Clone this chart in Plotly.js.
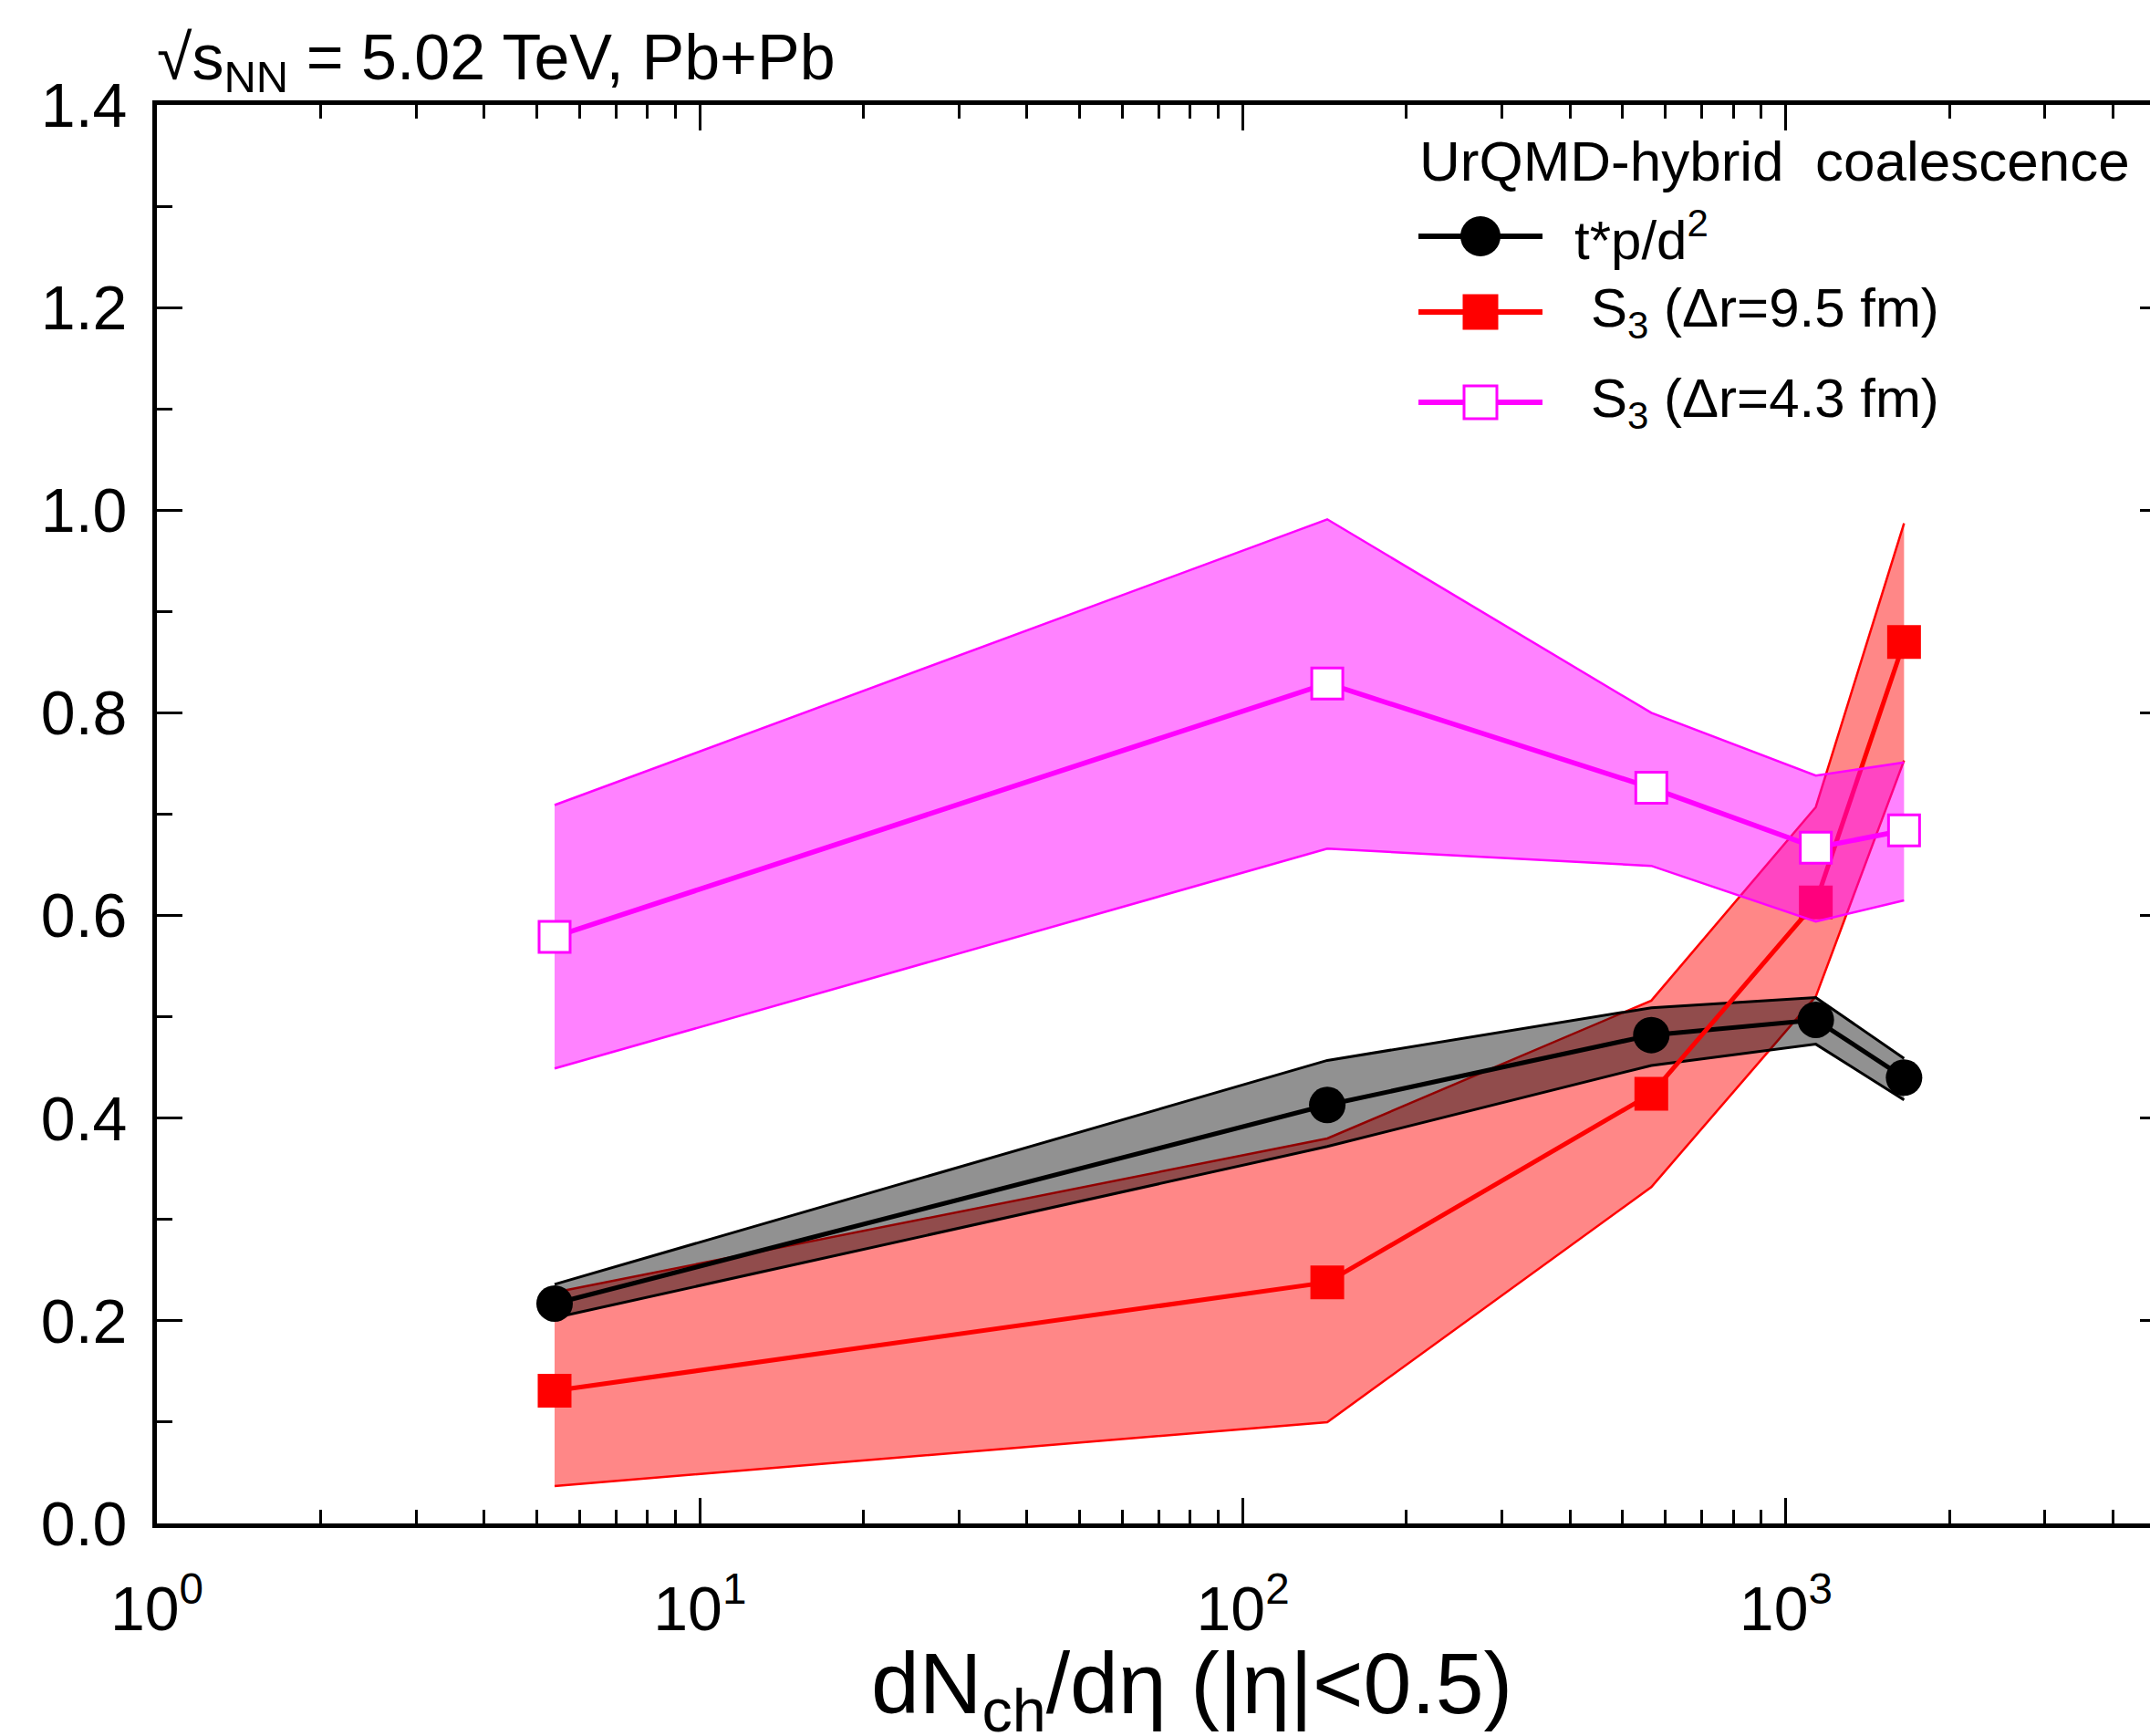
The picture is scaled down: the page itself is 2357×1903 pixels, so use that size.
<!DOCTYPE html>
<html><head><meta charset="utf-8">
<script src="https://cdn.plot.ly/plotly-3.0.1.min.js"></script>
<style>html,body{margin:0;padding:0;overflow:hidden;background:#fff}#chart{width:2400px;height:1903px}</style>
</head><body><div id="chart"></div><script>
// ---- data ----
const dNch = [5.4, 143, 565, 1135, 1650];
const tpd2 = [0.217, 0.413, 0.482, 0.497, 0.440];
const tpd2Up = [0.236, 0.457, 0.509, 0.519, 0.459];
const tpd2Lo = [0.203, 0.372, 0.452, 0.473, 0.418];
const s3r95 = [0.131, 0.238, 0.424, 0.613, 0.870];
const s3r95Up = [0.228, 0.380, 0.516, 0.707, 0.987];
const s3r95Lo = [0.037, 0.100, 0.332, 0.520, 0.753];
const s3r43 = [0.579, 0.829, 0.726, 0.667, 0.684];
const s3r43Up = [0.709, 0.991, 0.800, 0.738, 0.751];
const s3r43Lo = [0.449, 0.666, 0.649, 0.594, 0.615];
const xTickVals = [1, 10, 100, 1000];
const xTickText = ['10<sup>0</sup>', '10<sup>1</sup>', '10<sup>2</sup>', '10<sup>3</sup>'];
const seriesNames = ['t*p/d<sup>2</sup>', 'S<sub>3</sub> (Δr=9.5 fm)', 'S<sub>3</sub> (Δr=4.3 fm)'];
const legendHeader = 'UrQMD-hybrid  coalescence';
const plotTitle = '√s<sub>NN</sub> = 5.02 TeV, Pb+Pb';
const xTitle = 'dN<sub>ch</sub>/dη (|η|&lt;0.5)';

const FONT = 'Liberation Sans, Arial, Helvetica, sans-serif';
const RED = '#ff0000', MAG = '#ff00ff', BLK = '#000000';

function bandX(x) { return x.concat(x.slice().reverse()); }
function bandY(up, lo) { return up.concat(lo.slice().reverse()); }
function fillTrace(up, lo, col) {
  return {x: bandX(dNch), y: bandY(up, lo), mode: 'lines', fill: 'toself', fillcolor: col,
    line: {width: 0}, hoverinfo: 'skip', showlegend: false};
}
function edgeTrace(ys, col, w) {
  return {x: dNch, y: ys, mode: 'lines', line: {color: col, width: w}, hoverinfo: 'skip', showlegend: false};
}

const traces = [
  fillTrace(s3r95Up, s3r95Lo, 'rgba(255,0,0,0.47)'),
  edgeTrace(s3r95Up, RED, 2.5),
  edgeTrace(s3r95Lo, RED, 2.5),
  fillTrace(tpd2Up, tpd2Lo, 'rgba(0,0,0,0.43)'),
  edgeTrace(tpd2Up, BLK, 3),
  edgeTrace(tpd2Lo, BLK, 3),
  {x: dNch, y: tpd2, mode: 'lines+markers', name: seriesNames[0], showlegend: false,
    line: {color: BLK, width: 5}, marker: {symbol: 'circle', size: 40, color: BLK}},
  {x: dNch, y: s3r95, mode: 'lines+markers', name: seriesNames[1], showlegend: false,
    line: {color: RED, width: 5}, marker: {symbol: 'square', size: 37, color: RED}},
  fillTrace(s3r43Up, s3r43Lo, 'rgba(255,0,255,0.49)'),
  edgeTrace(s3r43Up, MAG, 2.5),
  edgeTrace(s3r43Lo, MAG, 2.5),
  {x: dNch, y: s3r43, mode: 'lines+markers', name: seriesNames[2], showlegend: false,
    line: {color: MAG, width: 5.5}, marker: {symbol: 'square', size: 34, color: '#ffffff', line: {color: MAG, width: 3}}}
];

// ---- hand-drawn legend on a pixel-mapped overlay axis ----
const L = {x0: 1555, x1: 1691, xm: 1623, rows: [259, 342, 441], textX: [1724, 1742, 1742], headX: 1554, headY: 176};
const legStyles = [
  {line: BLK, marker: {symbol: 'circle', size: 44, color: BLK}},
  {line: RED, marker: {symbol: 'square', size: 39, color: RED}},
  {line: MAG, marker: {symbol: 'square', size: 36, color: '#ffffff', line: {color: MAG, width: 3}}}
];
legStyles.forEach((s, i) => {
  traces.push({x: [L.x0, L.x1], y: [L.rows[i], L.rows[i]], xaxis: 'x2', yaxis: 'y2', mode: 'lines',
    line: {color: s.line, width: 6}, hoverinfo: 'skip', showlegend: false});
  traces.push({x: [L.xm], y: [L.rows[i]], xaxis: 'x2', yaxis: 'y2', mode: 'markers',
    marker: s.marker, hoverinfo: 'skip', showlegend: false});
});
const annotations = seriesNames.map((t, i) => ({
  text: t, xref: 'x2', yref: 'y2', x: L.textX[i], y: L.rows[i], xanchor: 'left', yanchor: 'middle',
  showarrow: false, font: {family: FONT, size: 60, color: BLK}
}));
annotations.push({text: legendHeader, xref: 'x2', yref: 'y2', x: L.headX, y: L.headY, xanchor: 'left',
  yanchor: 'middle', showarrow: false, font: {family: FONT, size: 62, color: BLK}});
// x-axis title, placed like the reference
annotations.push({text: xTitle, xref: 'paper', yref: 'paper', x: 0.515, y: 0, xanchor: 'center', yanchor: 'top',
  yshift: -120, showarrow: false, font: {family: FONT, size: 95, color: BLK}});

const axisCommon = {showgrid: false, zeroline: false, showline: true, linecolor: BLK, linewidth: 5,
  mirror: 'allticks', ticks: 'inside', tickcolor: BLK, tickwidth: 3, ticklen: 28,
  tickfont: {family: FONT, size: 68, color: BLK}};

const layout = {
  width: 2400, height: 1903,
  margin: {l: 172, r: 26, t: 115, b: 233},
  paper_bgcolor: '#ffffff', plot_bgcolor: '#ffffff',
  font: {family: FONT, color: BLK},
  showlegend: false,
  title: {text: plotTitle, font: {family: FONT, size: 70, color: BLK}, xref: 'paper', x: 0, xanchor: 'left',
    yref: 'container', y: 1 - 62 / 1903, yanchor: 'middle'},
  xaxis: Object.assign({}, axisCommon, {
    type: 'log', range: [0, Math.log10(5000)], tickmode: 'array', tickvals: xTickVals, ticktext: xTickText,
    ticklabelstandoff: 30,
    minor: {ticks: 'inside', ticklen: 15, tickwidth: 3, tickcolor: BLK, dtick: 'D1'}
  }),
  yaxis: Object.assign({}, axisCommon, {
    range: [0, 1.4], tickmode: 'linear', tick0: 0, dtick: 0.2, tickformat: '.1f',
    ticklabelstandoff: 14,
    minor: {ticks: 'inside', ticklen: 17, tickwidth: 3, tickcolor: BLK, dtick: 0.1}
  }),
  xaxis2: {overlaying: 'x', anchor: 'y2', range: [172, 2374], visible: false, fixedrange: true},
  yaxis2: {overlaying: 'y', anchor: 'x2', range: [1670, 115], visible: false, fixedrange: true},
  annotations: annotations
};

Plotly.newPlot('chart', traces, layout, {staticPlot: true, displayModeBar: false});
</script></body></html>
